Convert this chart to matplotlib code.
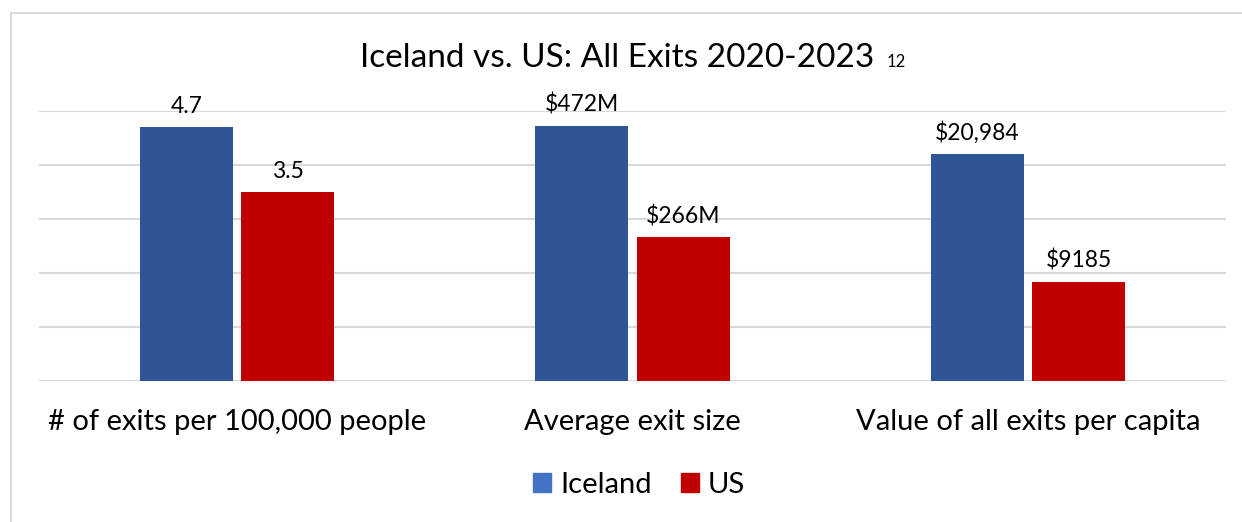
import matplotlib.pyplot as plt
from matplotlib.lines import Line2D
from matplotlib.patches import Patch
import numpy as np

plt.rcParams['font.family'] = ['Lato', 'DejaVu Sans']

# data
categories = ['# of exits per 100,000 people', 'Average exit size', 'Value of all exits per capita']
iceland = [4.7, 472, 20984]
us = [3.5, 266, 9185]
# each group is drawn on its own scale (one gridline = one unit)
unit = [1, 100, 5000]
iceland_labels = ['4.7', '$472M', '$20,984']
us_labels = ['3.5', '$266M', '$9185']

fig = plt.figure(figsize=(12.42, 5.22), dpi=100)
ax = fig.add_axes([39 / 1242, 1 - 381 / 522, (1226 - 39) / 1242, 270 / 522])

# outer chart frame (only top and left edges are inside the picture)
fx, fy = 10.5 / 1242, 1 - 12.5 / 522
fig.lines.append(Line2D([fx, 1], [fy, fy], transform=fig.transFigure, color='#d9d9d9', lw=1.5))
fig.lines.append(Line2D([fx, fx], [0, fy], transform=fig.transFigure, color='#d9d9d9', lw=1.5))

x = np.arange(len(categories))
w = 0.235
off = 0.128
h_ice = np.array(iceland) / np.array(unit)
h_us = np.array(us) / np.array(unit)

b1 = ax.bar(x - off, h_ice, w, color='#2f5597', zorder=3)
b2 = ax.bar(x + off, h_us, w, color='#c00000', zorder=3)

for rect, lab in zip(b1, iceland_labels):
    ax.text(rect.get_x() + rect.get_width() / 2, rect.get_height() + 0.19, lab,
            ha='center', va='bottom', fontsize=16.5)
for rect, lab in zip(b2, us_labels):
    ax.text(rect.get_x() + rect.get_width() / 2, rect.get_height() + 0.19, lab,
            ha='center', va='bottom', fontsize=16.5)

ax.set_xlim(-0.5, 2.5)
ax.set_ylim(0, 5)
ax.set_yticks(range(6))
ax.yaxis.grid(True, color='#d9d9d9', linewidth=1.5)
ax.tick_params(axis='y', left=False, labelleft=False)
ax.tick_params(axis='x', length=0, pad=20, labelsize=21)
ax.set_xticks(x)
ax.set_xticklabels(categories)
for s in ax.spines.values():
    s.set_visible(False)
ax.set_axisbelow(True)

fig.text(0.497, 1 - 58 / 522, 'Iceland vs. US: All Exits 2020-2023', ha='center', va='center', fontsize=24)
fig.text(887 / 1242, 1 - 62 / 522, '12', ha='left', va='center', fontsize=12)

# legend
handles = [Patch(color='#4472c4', label='Iceland'), Patch(color='#c00000', label='US')]
fig.legend(handles=handles, loc='center', bbox_to_anchor=(0.5145, 1 - 485 / 522), ncol=2,
           frameon=False, fontsize=21, handlelength=0.62, handleheight=0.62,
           handletextpad=0.3, columnspacing=1.0)

fig.savefig('out.png', dpi=100)
